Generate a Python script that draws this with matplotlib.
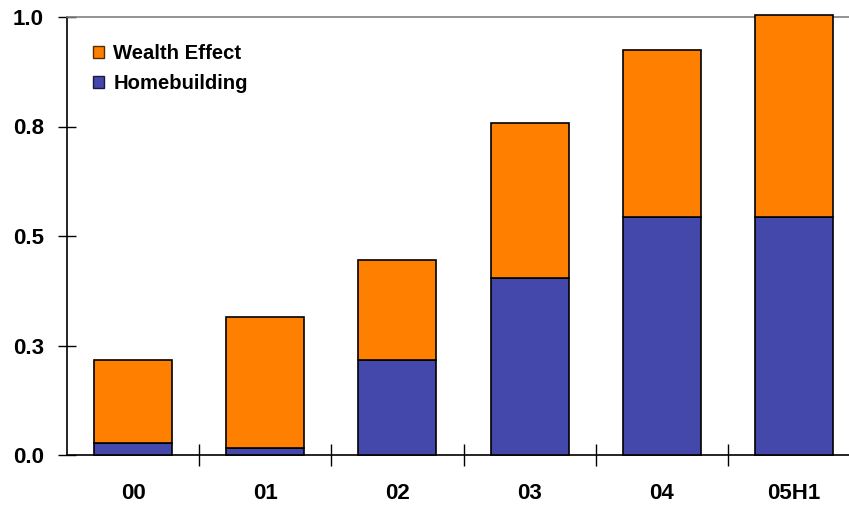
import matplotlib
matplotlib.use("Agg")
import matplotlib.pyplot as plt
import numpy as np
from matplotlib.patches import Patch

periods = ["00", "01", "02", "03", "04", "05H1"]
homebuilding = [0.027, 0.017, 0.218, 0.405, 0.544, 0.544]
wealth_effect = [0.190, 0.299, 0.228, 0.352, 0.381, 0.461]
ytick_values = [0.0, 0.25, 0.5, 0.75, 1.0]
ytick_labels = ["0.0", "0.3", "0.5", "0.8", "1.0"]

ORANGE = "#FF7F00"
BLUE = "#4448AA"

plt.rcParams["font.family"] = ["Liberation Sans", "DejaVu Sans"]

fig = plt.figure(figsize=(8.49, 5.05), dpi=100)
ax = fig.add_axes([67 / 849, 1 - 455 / 505, 793 / 849, 438 / 505])

x = np.arange(len(periods))
width = 0.59
ax.bar(x, homebuilding, width, color=BLUE, edgecolor="black", linewidth=1.2,
       clip_on=False, zorder=3)
ax.bar(x, wealth_effect, width, bottom=homebuilding, color=ORANGE,
       edgecolor="black", linewidth=1.2, clip_on=False, zorder=3)

ax.set_xlim(-0.5, len(periods) - 0.5)
ax.set_ylim(0, 1.0)

ax.set_yticks(ytick_values)
ax.set_yticklabels(ytick_labels, fontsize=16, fontweight="bold")
ax.tick_params(axis="y", direction="inout", length=13, width=1, pad=10)

ax.set_xticks(x)
ax.set_xticklabels(periods, fontsize=16, fontweight="bold")
ax.tick_params(axis="x", which="major", length=0, pad=20)
ax.set_xticks(np.arange(0.5, len(periods) - 0.5, 1.0), minor=True)
ax.tick_params(axis="x", which="minor", direction="inout", length=16, width=1)

ax.spines["top"].set_color("#808080")
ax.spines["top"].set_linewidth(1.2)
ax.spines["right"].set_visible(False)
ax.spines["left"].set_color("black")
ax.spines["bottom"].set_color("black")
ax.spines["left"].set_linewidth(1.2)
ax.spines["bottom"].set_linewidth(1.2)

handles = [Patch(facecolor=ORANGE, edgecolor="#5a2a00", label="Wealth Effect"),
           Patch(facecolor=BLUE, edgecolor="#1a1a40", label="Homebuilding")]
leg = ax.legend(handles=handles, loc="upper left",
                bbox_to_anchor=(26 / 793, (455 - 44) / 438),
                borderaxespad=0, borderpad=0,
                frameon=False, prop={"size": 14.6, "weight": "bold"},
                handlelength=0.55, handleheight=0.55, handletextpad=0.45,
                labelspacing=0.55)

fig.savefig("out.png", dpi=100)
